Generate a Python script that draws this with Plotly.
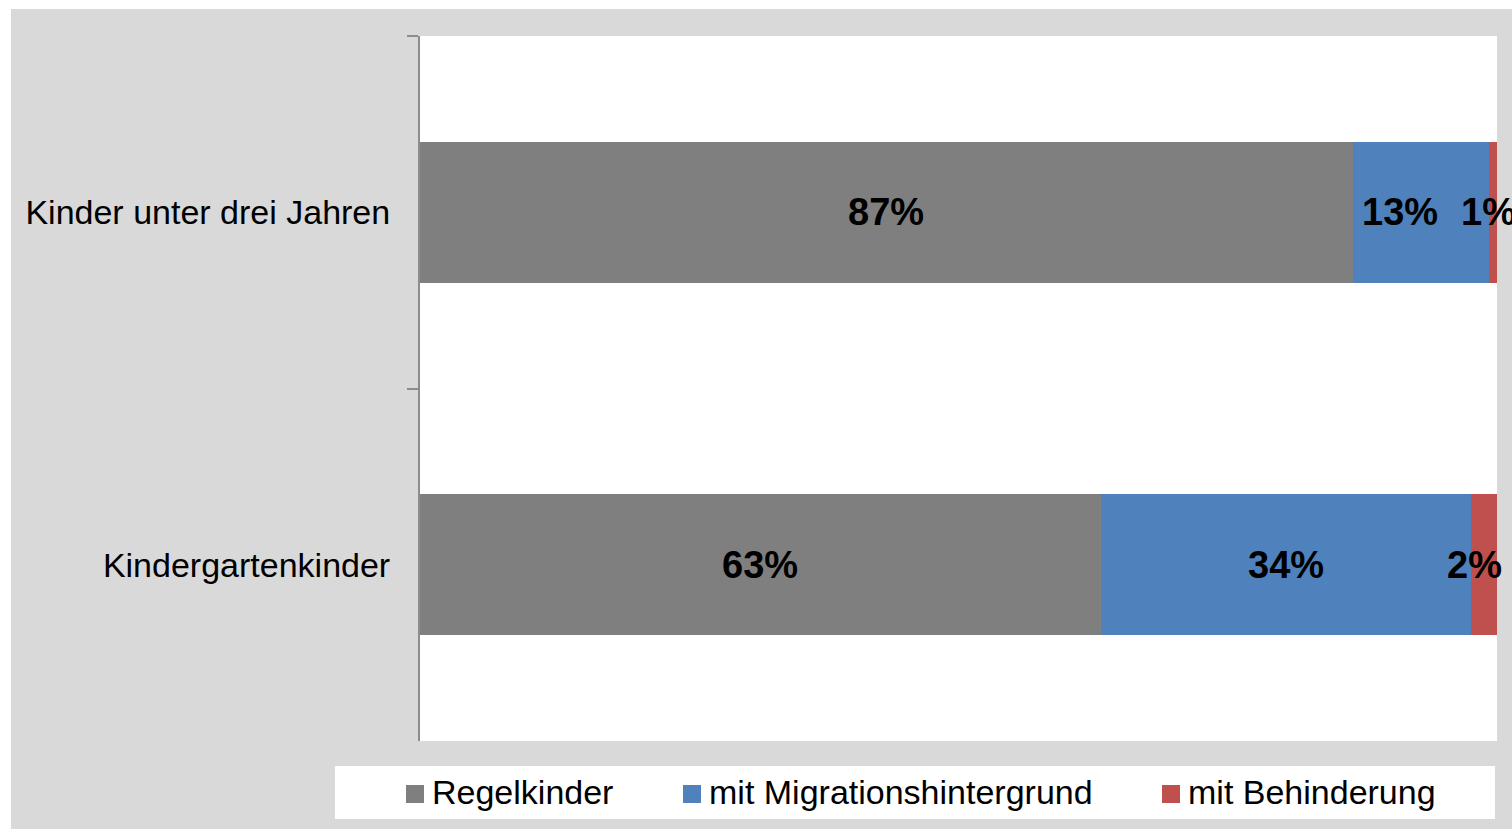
import plotly.graph_objects as go

categories = ["Kinder unter drei Jahren", "Kindergartenkinder"]
series_names = ["Regelkinder", "mit Migrationshintergrund", "mit Behinderung"]
regelkinder = [86.6, 63.2]
migration = [12.7, 34.4]
behinderung = [0.7, 2.4]
series_values = [regelkinder, migration, behinderung]
colors = ["#7f7f7f", "#4f81bd", "#c0504d"]
# pixel nudges of the data labels (style only), per series and category
label_shift = [[0, 0], [-21, 0], [-5, -10]]

W, H = 1512, 829
L, R, T, B = 420, 15, 36, 88
PW, PH = W - L - R, H - T - B
FONT = "Liberation Sans, Arial"


def px2x(px):
    return (px - L) / PW


def py2y(py):
    return (H - B - py) / PH


fig = go.Figure()
for name, vals, col in zip(series_names, series_values, colors):
    fig.add_trace(go.Bar(
        y=categories, x=vals, name=name, orientation="h",
        marker=dict(color=col, line=dict(width=0)),
        showlegend=False, hoverinfo="x+name",
    ))

annotations = []
cum = [0.0] * len(categories)
for i, vals in enumerate(series_values):
    for j, v in enumerate(vals):
        annotations.append(dict(
            xref="x", yref="y", x=cum[j] + v / 2, y=categories[j],
            text=f"{round(v)}%", showarrow=False, xanchor="center", yanchor="middle",
            xshift=label_shift[i][j],
            font=dict(family=FONT, size=38, color="black", weight="bold")))
        cum[j] += v

shapes = [
    # white page margins (left and top)
    dict(type="rect", xref="paper", yref="paper", x0=px2x(0), x1=px2x(11), y0=py2y(H), y1=py2y(0),
         fillcolor="white", line=dict(width=0), layer="below"),
    dict(type="rect", xref="paper", yref="paper", x0=px2x(0), x1=px2x(W), y0=py2y(9), y1=py2y(0),
         fillcolor="white", line=dict(width=0), layer="below"),
    # legend box
    dict(type="rect", xref="paper", yref="paper", x0=px2x(335), x1=px2x(1495), y0=py2y(819), y1=py2y(766),
         fillcolor="white", line=dict(width=0)),
]
legend_sq_x = [406, 683, 1162]
for name, col, sx in zip(series_names, colors, legend_sq_x):
    shapes.append(dict(type="rect", xref="paper", yref="paper",
                       x0=px2x(sx), x1=px2x(sx + 18), y0=py2y(803), y1=py2y(785),
                       fillcolor=col, line=dict(width=0)))
    annotations.append(dict(xref="paper", yref="paper", x=px2x(sx + 24), y=py2y(792),
                            xanchor="left", yanchor="middle", showarrow=False, text=name,
                            font=dict(family=FONT, size=34, color="black")))

fig.update_layout(
    width=W, height=H,
    margin=dict(l=L, r=R, t=T, b=B, pad=0),
    paper_bgcolor="#d9d9d9", plot_bgcolor="white",
    barmode="stack", bargap=0.6,
    showlegend=False,
    shapes=shapes, annotations=annotations,
    xaxis=dict(visible=False, range=[0, 100], fixedrange=True),
    yaxis=dict(type="category", autorange="reversed", tickson="boundaries",
               ticks="outside", ticklen=11, tickwidth=1.5, tickcolor="#8c8c8c",
               showline=True, linecolor="#8c8c8c", linewidth=2, showgrid=False,
               tickfont=dict(family=FONT, size=34, color="black"),
               ticklabelstandoff=21),
)

fig.write_html("out.html")
